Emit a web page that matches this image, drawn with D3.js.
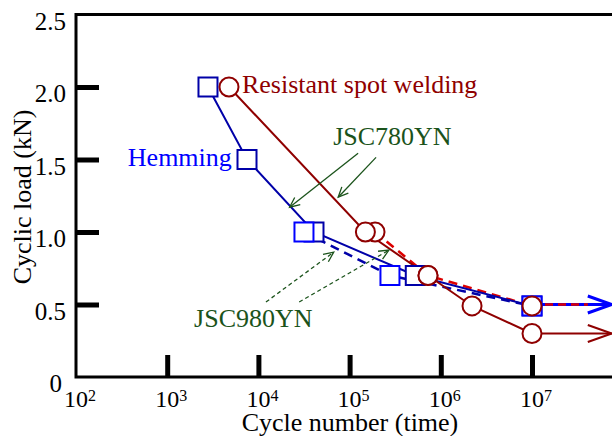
<!DOCTYPE html>
<html>
<head>
<meta charset="utf-8">
<script src="https://cdn.jsdelivr.net/npm/d3@7"></script>
</head>
<body style="margin:0">
<script>
// tick values / labels
var xTicks = [1e2, 1e3, 1e4, 1e5, 1e6, 1e7];
var xTickPowers = ["2", "3", "4", "5", "6", "7"];
var yTicks = [0, 0.5, 1.0, 1.5, 2.0, 2.5];
var yTickLabels = ["0", "0.5", "1.0", "1.5", "2.0", "2.5"];

// hemming, JSC780YN (solid) and JSC980YN (dashed)
var hem780Cycles = [2800, 7500, 40700, 525000, 1e7];
var hem780Load   = [2.0, 1.5, 1.0, 0.7, 0.49];
var hem980Cycles = [31600, 277000, 1e7];
var hem980Load   = [1.0, 0.7, 0.49];

// resistant spot welding, JSC780YN (solid) and JSC980YN (dashed)
var spot780Cycles = [4760, 149000, 724000, 2200000, 1e7];
var spot780Load   = [2.0, 1.0, 0.7, 0.49, 0.3];
var spot980Cycles = [190000, 724000, 1e7];
var spot980Load   = [1.0, 0.7, 0.49];

// run-out (no failure) arrows end here
var runoutCycles = 7.5e7;

var w = 612;
var h = 436;

var xScale = d3.scaleLog()
               .domain([1e2, 1e8])
               .range([76, 623.2]);
var yScale = d3.scaleLinear()
               .domain([0, 2.5])
               .range([377, 14.5]);

var svg = d3.select("body")
            .append("svg")
            .attr("width", w)
            .attr("height", h);

var navy = "#0000a8", blue = "#0000ff", darkRed = "#8f0000", red = "#dd0000", green = "#1b531b";

function pts(xs, ys) {
    return xs.map(function (d, i) { return [d, ys[i]]; });
}
var line = d3.line()
             .x(function (d) { return xScale(d[0]); })
             .y(function (d) { return yScale(d[1]); });

// every text goes through here so the font is set the same way
function txt(sel, size) {
    return sel.attr("font-family", "Liberation Serif")
              .style("font-family", function () { return "'Liberation Serif', monospace"; })
              .style("font-size", size + "px");
}

// axes (ticks only, inside)
var xAxis = d3.axisBottom(xScale)
              .tickValues(xTicks.slice(1))
              .tickSize(-22)
              .tickSizeOuter(0)
              .tickFormat("");
var gx = svg.append("g")
            .attr("transform", "translate(0," + yScale(0) + ")")
            .call(xAxis);
gx.select(".domain").remove();
gx.selectAll(".tick line").attr("stroke", "#000").attr("stroke-width", 5);

var yAxis = d3.axisLeft(yScale)
              .tickValues(yTicks.slice(1, yTicks.length - 1))
              .tickSize(-23)
              .tickSizeOuter(0)
              .tickFormat("");
var gy = svg.append("g")
            .attr("transform", "translate(" + xScale(1e2) + ",0)")
            .call(yAxis);
gy.select(".domain").remove();
gy.selectAll(".tick line").attr("stroke", "#000").attr("stroke-width", 5);

// frame
svg.append("path")
   .attr("d", "M" + xScale.range()[1] + "," + yScale(2.5) +
              "H" + xScale(1e2) + "V" + yScale(0) + "H" + xScale.range()[1])
   .attr("fill", "none")
   .attr("stroke", "#000")
   .attr("stroke-width", 3);

// tick labels
txt(svg.selectAll("text.ylab")
   .data(yTicks)
   .enter()
   .append("text")
   .attr("class", "ylab")
   .attr("x", function (d) { return d === 0 ? 62 : 66; })
   .attr("y", function (d) { return yScale(d) + 15; })
   .attr("text-anchor", "end")
   .text(function (d, i) { return yTickLabels[i]; }), 25);

var xl = txt(svg.selectAll("text.xlab")
            .data(xTicks)
            .enter()
            .append("text")
            .attr("class", "xlab")
            .attr("x", function (d) { return xScale(d) - 12; })
            .attr("y", 407), 24);
xl.append("tspan").text("10");
xl.append("tspan")
  .attr("dy", -6)
  .style("font-size", "16px")
  .text(function (d, i) { return xTickPowers[i]; });

// axis titles
txt(svg.append("text")
   .attr("x", 350)
   .attr("y", 431)
   .attr("text-anchor", "middle")
   .text("Cycle number (time)"), 26);
txt(svg.append("text")
   .attr("transform", "translate(31,197) rotate(-90)")
   .attr("text-anchor", "middle")
   .text("Cyclic load (kN)"), 26);

function arrowHead(x1, y1, x2, y2, len, half, color, sw) {
    var a = Math.atan2(y2 - y1, x2 - x1);
    var ca = Math.cos(a), sa = Math.sin(a);
    var p1 = [x2 - len * ca + half * sa, y2 - len * sa - half * ca];
    var p2 = [x2 - len * ca - half * sa, y2 - len * sa + half * ca];
    svg.append("path")
       .attr("d", "M" + p1 + "L" + x2 + "," + y2 + "L" + p2)
       .attr("fill", "none")
       .attr("stroke", color)
       .attr("stroke-width", sw);
}

// run-out arrows
var xr0 = xScale(1e7), xr1 = xScale(runoutCycles);
svg.append("line")
   .attr("x1", xr0).attr("x2", xr1)
   .attr("y1", yScale(0.5)).attr("y2", yScale(0.5))
   .attr("stroke", blue).attr("stroke-width", 3);
arrowHead(xr0, yScale(0.5), xr1, yScale(0.5), 24, 8.5, blue, 3);
svg.append("line")
   .attr("x1", xr0).attr("x2", xr1 - 24)
   .attr("y1", yScale(0.5)).attr("y2", yScale(0.5))
   .attr("stroke", red).attr("stroke-width", 2.5)
   .attr("stroke-dasharray", "8,5");
svg.append("line")
   .attr("x1", xr0).attr("x2", xr1)
   .attr("y1", yScale(0.3)).attr("y2", yScale(0.3))
   .attr("stroke", darkRed).attr("stroke-width", 2);
arrowHead(xr0, yScale(0.3), xr1, yScale(0.3), 24, 8.5, darkRed, 2.2);

// series lines
svg.append("path").datum(pts(hem980Cycles, hem980Load))
   .attr("d", line).attr("fill", "none")
   .attr("stroke", navy).attr("stroke-width", 2.5).attr("stroke-dasharray", "9,6");
svg.append("path").datum(pts(spot980Cycles, spot980Load))
   .attr("d", line).attr("fill", "none")
   .attr("stroke", red).attr("stroke-width", 2.5).attr("stroke-dasharray", "9,6");
svg.append("path").datum(pts(hem780Cycles, hem780Load))
   .attr("d", line).attr("fill", "none")
   .attr("stroke", navy).attr("stroke-width", 2);
svg.append("path").datum(pts(spot780Cycles, spot780Load))
   .attr("d", line).attr("fill", "none")
   .attr("stroke", darkRed).attr("stroke-width", 2);

// markers
function squares(data, color) {
    svg.append("g").selectAll("rect")
       .data(data)
       .enter()
       .append("rect")
       .attr("x", function (d) { return xScale(d[0]) - 9.5; })
       .attr("y", function (d) { return yScale(d[1]) - 9.5; })
       .attr("width", 19)
       .attr("height", 19)
       .attr("fill", "#fff")
       .attr("stroke", color)
       .attr("stroke-width", 2);
}
function circles(data, color) {
    svg.append("g").selectAll("circle")
       .data(data)
       .enter()
       .append("circle")
       .attr("cx", function (d) { return xScale(d[0]); })
       .attr("cy", function (d) { return yScale(d[1]); })
       .attr("r", 9.5)
       .attr("fill", "#fff")
       .attr("stroke", color)
       .attr("stroke-width", 2);
}
squares(pts(hem780Cycles, hem780Load), navy);
squares(pts(hem980Cycles, hem980Load), blue);
circles(pts(spot980Cycles, spot980Load), darkRed);
circles(pts(spot780Cycles, spot780Load), darkRed);

// annotation arrows (data space)
var notes = [
    [[1.24e5, 1.543], [2.2e4, 1.171], false],
    [[1.95e5, 1.515], [7.5e4, 1.240], false],
    [[1.21e4, 0.517], [6.7e4, 0.861], true],
    [[2.8e4, 0.517], [2.7e5, 0.875], true]
];
notes.forEach(function (n) {
    var x1 = xScale(n[0][0]), y1 = yScale(n[0][1]);
    var x2 = xScale(n[1][0]), y2 = yScale(n[1][1]);
    svg.append("line")
       .attr("x1", x1).attr("y1", y1).attr("x2", x2).attr("y2", y2)
       .attr("stroke", green).attr("stroke-width", 1.3)
       .attr("stroke-dasharray", n[2] ? "4,3" : null);
    arrowHead(x1, y1, x2, y2, 10, 4.5, green, 1.3);
});

// labels
function label(n, v, s, color) {
    txt(svg.append("text")
       .attr("x", xScale(n)).attr("y", yScale(v))
       .attr("fill", color)
       .text(s), 26);
}
label(6.6e3, 1.956, "Resistant spot welding", darkRed);
label(370, 1.453, "Hemming", blue);
label(6.6e4, 1.598, "JSC780YN", green);
label(1.97e3, 0.344, "JSC980YN", green);
</script>
</body>
</html>
